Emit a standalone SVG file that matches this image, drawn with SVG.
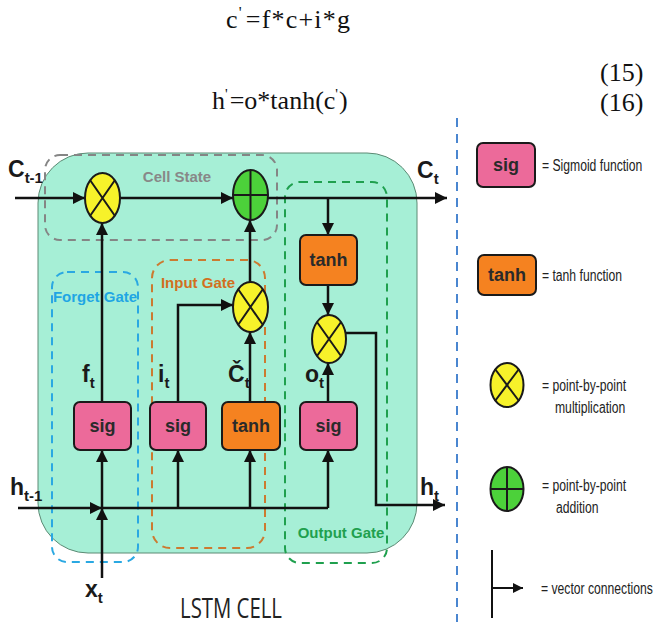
<svg xmlns="http://www.w3.org/2000/svg" width="659" height="628" viewBox="0 0 659 628">
<defs>
<marker id="ah" viewBox="0 0 10 10" refX="10" refY="5" markerWidth="10" markerHeight="10" markerUnits="userSpaceOnUse" orient="auto">
<path d="M0,0 L10,5 L0,10 z" fill="#111"/>
</marker>
<marker id="ahL" viewBox="0 0 10 10" refX="10" refY="5" markerWidth="14" markerHeight="12" markerUnits="userSpaceOnUse" orient="auto">
<path d="M0,0 L10,5 L0,10 z" fill="#111"/>
</marker>
</defs>
<style>
.eq{font-family:"Liberation Serif","Times New Roman",serif;font-size:26px;fill:#111}
.lab{font-family:"Liberation Sans Narrow","Liberation Sans",Arial,sans-serif;font-weight:bold;fill:#1a1a1a}
.big{font-size:23px}
.sub{font-size:15px}
.box{stroke:#1a1a1a;stroke-width:2}
.sig{fill:#EC6A9A}
.tanh{fill:#F58220}
.mul{fill:#F7F22A;stroke:#1a1a1a;stroke-width:2}
.add{fill:#4CD13A;stroke:#1a1a1a;stroke-width:2}
.bt{font-family:"Liberation Sans Narrow","Liberation Sans",Arial,sans-serif;font-weight:bold;font-size:18px;fill:#2a2a2a;text-anchor:middle}
.gt{font-family:"Liberation Sans Narrow","Liberation Sans",Arial,sans-serif;font-weight:bold;font-size:15px;text-anchor:middle}
.dash{fill:none;stroke-width:2;stroke-dasharray:8,6}
.ln{fill:none;stroke:#111;stroke-width:2.5}
.lg{font-family:"Liberation Sans",Arial,sans-serif;font-size:16px;fill:#222}
</style>
<rect width="659" height="628" fill="#fff"/>

<g id="equations">
<text class="eq" x="226" y="28" letter-spacing="1.2">c<tspan font-size="16" dy="-10">'</tspan><tspan dx="3" dy="10">=f*c+i*g</tspan></text>
<text class="eq" x="600" y="81">(15)</text>
<text class="eq" x="212" y="109" font-size="24">h<tspan font-size="15" dy="-10">'</tspan><tspan dx="2" dy="10">=o*tanh(c</tspan><tspan font-size="15" dy="-10">'</tspan><tspan dx="1" dy="10">)</tspan></text>
<text class="eq" x="600" y="111">(16)</text>
</g>

<g id="cell-bg">
<rect x="38" y="153" width="379" height="400" rx="50" ry="50" fill="#A6EFD6" stroke="#5c8a74" stroke-width="1"/>
</g>

<g id="separator">
<line x1="457" y1="118" x2="457" y2="622" stroke="#4A86D0" stroke-width="2" stroke-dasharray="9,7"/>
</g>

<g id="gate-boxes">
<rect id="cell-state-box" x="45" y="155" width="232" height="85" rx="15" class="dash" stroke="#858585"/>
<rect id="forget-gate-box" x="52" y="272" width="86" height="290" rx="15" class="dash" stroke="#2AA8E2"/>
<rect id="input-gate-box" x="152" y="260" width="113" height="288" rx="18" class="dash" stroke="#CC7A30"/>
<rect id="output-gate-box" x="285" y="182" width="102" height="381" rx="15" class="dash" stroke="#1FA04E"/>
<text class="gt" x="177" y="182" fill="#888">Cell State</text>
<text class="gt" x="95" y="302" fill="#1FA6E4">Forget Gate</text>
<text class="gt" x="198" y="288" fill="#D2701E">Input Gate</text>
<text class="gt" x="341" y="538" fill="#1FA04E">Output Gate</text>
</g>

<g id="connectors">
<line class="ln" x1="15" y1="198" x2="85" y2="198" marker-end="url(#ahL)"/>
<line class="ln" x1="120" y1="198" x2="233" y2="198" marker-end="url(#ahL)"/>
<line class="ln" x1="268" y1="198" x2="447" y2="198" marker-end="url(#ahL)"/>
<line class="ln" x1="18" y1="508" x2="102" y2="508" marker-end="url(#ahL)"/>
<line class="ln" x1="102" y1="508" x2="328" y2="508"/>
<line class="ln" x1="102" y1="578" x2="102" y2="508" marker-end="url(#ahL)"/>
<line class="ln" x1="102" y1="508" x2="102" y2="450" marker-end="url(#ahL)"/>
<line class="ln" x1="102" y1="402" x2="102" y2="223" marker-end="url(#ahL)"/>
<line class="ln" x1="178" y1="508" x2="178" y2="450" marker-end="url(#ahL)"/>
<polyline class="ln" points="178,402 178,305 233,305" marker-end="url(#ahL)"/>
<line class="ln" x1="250" y1="508" x2="250" y2="450" marker-end="url(#ahL)"/>
<line class="ln" x1="250" y1="402" x2="250" y2="332" marker-end="url(#ahL)"/>
<line class="ln" x1="250" y1="282" x2="250" y2="220" marker-end="url(#ahL)"/>
<line class="ln" x1="328" y1="198" x2="328" y2="235" marker-end="url(#ahL)"/>
<line class="ln" x1="328" y1="285" x2="328" y2="315" marker-end="url(#ahL)"/>
<line class="ln" x1="328" y1="508" x2="328" y2="450" marker-end="url(#ahL)"/>
<line class="ln" x1="328" y1="402" x2="328" y2="363" marker-end="url(#ahL)"/>
<polyline class="ln" points="346,333 376,333 376,505 445,505" marker-end="url(#ahL)"/>
</g>

<g id="forget-mul"><ellipse cx="102.5" cy="198" rx="17.5" ry="25" class="mul"/><path d="M90,180 L115,216 M115,180 L90,216" stroke="#1a1a1a" stroke-width="2"/></g>
<g id="cell-add"><ellipse cx="250.5" cy="195" rx="17.5" ry="25" class="add"/><path d="M250.5,170 V220 M233,195 H268" stroke="#1a1a1a" stroke-width="2"/></g>
<g id="input-mul"><ellipse cx="250.5" cy="307" rx="17.5" ry="25" class="mul"/><path d="M238,289 L263,325 M263,289 L238,325" stroke="#1a1a1a" stroke-width="2"/></g>
<g id="output-mul"><ellipse cx="329" cy="339" rx="17" ry="24" class="mul"/><path d="M317,322 L341,356 M341,322 L317,356" stroke="#1a1a1a" stroke-width="2"/></g>

<g id="forget-sig"><rect x="74" y="402" width="57" height="48" rx="6" class="box sig"/><text class="bt" x="102.5" y="432">sig</text></g>
<g id="input-sig"><rect x="150" y="402" width="56" height="48" rx="6" class="box sig"/><text class="bt" x="178" y="432">sig</text></g>
<g id="input-tanh"><rect x="222" y="402" width="58" height="48" rx="6" class="box tanh"/><text class="bt" x="251" y="432">tanh</text></g>
<g id="output-sig"><rect x="300" y="402" width="57" height="48" rx="6" class="box sig"/><text class="bt" x="328.5" y="432">sig</text></g>
<g id="output-tanh"><rect x="300" y="235" width="57" height="50" rx="6" class="box tanh"/><text class="bt" x="328.5" y="266">tanh</text></g>

<g id="labels">
<text class="lab big" x="8" y="177">C<tspan class="sub" dy="6">t-1</tspan></text>
<text class="lab big" x="417" y="178">C<tspan class="sub" dy="6">t</tspan></text>
<text class="lab big" x="10" y="495">h<tspan class="sub" dy="6">t-1</tspan></text>
<text class="lab big" x="420" y="495">h<tspan class="sub" dy="6">t</tspan></text>
<text class="lab big" x="85" y="597">x<tspan class="sub" dy="6">t</tspan></text>
<text class="lab big" x="82" y="382">f<tspan class="sub" dy="6">t</tspan></text>
<text class="lab big" x="158" y="382">i<tspan class="sub" dy="6">t</tspan></text>
<text class="lab big" x="228" y="382">Č<tspan class="sub" dy="6">t</tspan></text>
<text class="lab big" x="305" y="382">o<tspan class="sub" dy="6">t</tspan></text>
</g>

<g id="title"><text x="180" y="618" font-family="'Open Sans','Liberation Sans',sans-serif" font-size="27" fill="#222" textLength="102" lengthAdjust="spacingAndGlyphs">LSTM CELL</text></g>

<g id="legend">
<g id="legend-sig"><rect x="477" y="143" width="58" height="44" rx="6" class="box sig"/><text class="bt" x="506" y="171">sig</text><text class="lg" transform="translate(542,171) scale(0.76,1)">= Sigmoid function</text></g>
<g id="legend-tanh"><rect x="478" y="255" width="58" height="40" rx="6" class="box tanh"/><text class="bt" x="507" y="281">tanh</text><text class="lg" transform="translate(542,281) scale(0.76,1)">= tanh function</text></g>
<g id="legend-mul"><ellipse cx="507" cy="385" rx="16.5" ry="22" class="mul"/><path d="M495,369 L519,401 M519,369 L495,401" stroke="#1a1a1a" stroke-width="2"/><text class="lg" transform="translate(542,391) scale(0.76,1)">= point-by-point</text><text class="lg" transform="translate(555,413) scale(0.76,1)">multiplication</text></g>
<g id="legend-add"><ellipse cx="507" cy="489" rx="16.5" ry="22" class="add"/><path d="M507,467 V511 M490.5,489 H523.5" stroke="#1a1a1a" stroke-width="2"/><text class="lg" transform="translate(542,491) scale(0.76,1)">= point-by-point</text><text class="lg" transform="translate(556,513) scale(0.76,1)">addition</text></g>
<g id="legend-vec"><line x1="492" y1="550" x2="492" y2="618" stroke="#111" stroke-width="2"/><line x1="492" y1="588" x2="523" y2="588" stroke="#111" stroke-width="2" marker-end="url(#ah)"/><text class="lg" transform="translate(541,594) scale(0.76,1)">= vector connections</text></g>
</g>
</svg>
